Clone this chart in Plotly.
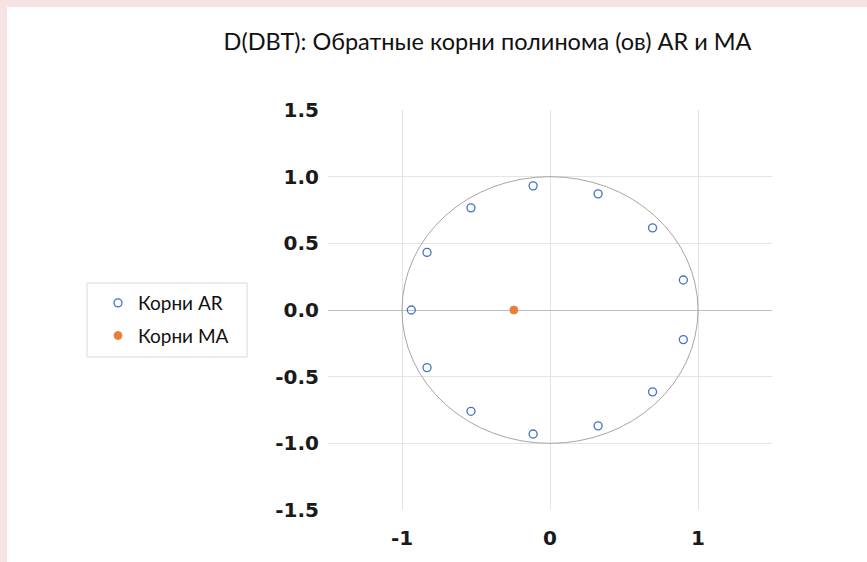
import plotly.graph_objects as go

ar_re = [-0.114, 0.325, 0.693, 0.901, 0.901, 0.693, 0.325, -0.114, -0.534, -0.831, -0.937, -0.831, -0.534]
ar_im = [0.931, 0.871, 0.616, 0.225, -0.222, -0.614, -0.869, -0.930, -0.760, -0.432, 0.0, 0.432, 0.766]
ma_re = [-0.244]
ma_im = [0.0]

x_ticks = [-1, 0, 1]
x_labels = ["-1", "0", "1"]
y_ticks = [-1.5, -1.0, -0.5, 0.0, 0.5, 1.0, 1.5]
y_labels = ["-1.5", "-1.0", "-0.5", "0.0", "0.5", "1.0", "1.5"]
y_grid = [-1.0, -0.5, 0.5, 1.0]

series_names = ["Корни AR", "Корни MA"]
title_text = "D(DBT): Обратные корни полинома (ов) AR и MA"

W, H = 867, 562
L, R, T, B = 328, 95, 110, 52
pw, ph = W - L - R, H - T - B


def px_x(p):
    return (p - L) / pw


def px_y(p):
    return (H - B - p) / ph


fig = go.Figure()
fig.add_trace(go.Scatter(
    x=ar_re, y=ar_im, mode="markers", name=series_names[0], legendgroup="a",
    marker=dict(symbol="circle-open", size=8, color="#4472C4", line=dict(width=1.3, color="#4472C4")),
))
fig.add_trace(go.Scatter(
    x=ma_re, y=ma_im, mode="markers", name=series_names[1], legendgroup="b", yaxis="y2",
    marker=dict(symbol="circle", size=8, color="#ED7D31", line=dict(width=1, color="#E8864A")),
))

tickfont = dict(family="DejaVu Sans", size=20, color="#1A1A1A", weight="bold")
fig.update_layout(
    width=W, height=H, autosize=False,
    margin=dict(l=L, r=R, t=T, b=B),
    paper_bgcolor="#F6E4E4", plot_bgcolor="rgba(0,0,0,0)",
    showlegend=True,
    title=dict(text=title_text, x=px_x(487.5), xref="paper", xanchor="center",
               y=1 - 42 / H, yref="container", yanchor="middle",
               font=dict(family="Lato", size=23.5, color="#111111")),
    xaxis=dict(range=[-1.5, 1.5], tickmode="array", tickvals=x_ticks, ticktext=x_labels,
               showgrid=True, gridcolor="#E4E4E4", gridwidth=1, zeroline=False, showline=False,
               ticks="", ticklabelstandoff=14, tickfont=tickfont, fixedrange=True),
    yaxis=dict(range=[-1.5, 1.5], tickmode="array", tickvals=y_ticks, ticktext=y_labels,
               showgrid=False, zeroline=False, showline=False, ticks="",
               ticklabelstandoff=8, tickfont=tickfont, fixedrange=True),
    yaxis2=dict(range=[-1.5, 1.5], overlaying="y", side="left", tickmode="array", tickvals=y_grid,
                showticklabels=False, showgrid=True, gridcolor="#E4E4E4", gridwidth=1,
                zeroline=True, zerolinecolor="#BFBFBF", zerolinewidth=1, ticks="", fixedrange=True),
    legend=dict(x=px_x(98), y=px_y(284), xanchor="left", yanchor="top",
                bgcolor="rgba(0,0,0,0)", borderwidth=0, tracegroupgap=5,
                font=dict(family="Lato", size=19, color="#111111")),
    shapes=[
        dict(type="rect", xref="paper", yref="paper", layer="below",
             x0=px_x(7), x1=px_x(W + 5), y0=px_y(H + 5), y1=px_y(7),
             fillcolor="white", line=dict(width=0)),
        dict(type="rect", xref="paper", yref="paper", layer="below",
             x0=px_x(87), x1=px_x(247), y0=px_y(357), y1=px_y(283),
             fillcolor="rgba(0,0,0,0)", line=dict(width=1, color="#D9D9D9")),
        dict(type="circle", xref="x", yref="y", layer="between",
             x0=-1, x1=1, y0=-1, y1=1,
             line=dict(width=1, color="#A6A6A6")),
    ],
)

fig.write_html("out.html",
               config={"displayModeBar": False},
               post_script="document.body.style.margin='0px';document.body.style.background='white';")
